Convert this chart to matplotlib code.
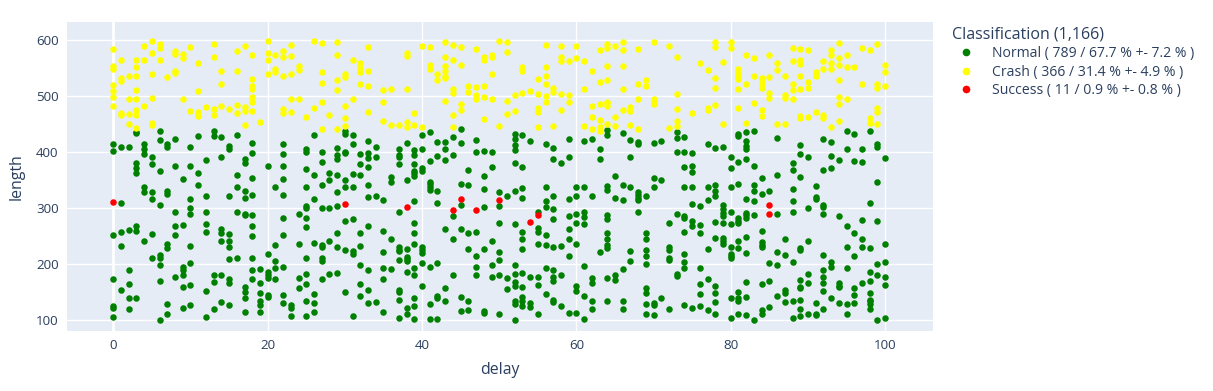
import matplotlib
matplotlib.use("Agg")
import matplotlib.pyplot as plt
from matplotlib.lines import Line2D

# lengths, one list per delay value (index = delay 0..100)
normal_by_delay = [
    [415, 402, 252, 173, 125, 122, 106],
    [409, 309, 257, 233, 154],
    [409, 261, 189, 165, 139, 121],
    [435, 434, 381, 371, 363, 269, 259, 139],
    [414, 405, 397, 338, 329, 242],
    [391, 378, 328, 317, 254, 211],
    [437, 421, 367, 305, 217, 212, 198, 171, 100],
    [415, 409, 331, 325, 236, 229, 130, 111],
    [423, 376, 293, 268, 252, 178],
    [352, 270, 196, 189, 181, 160, 122],
    [409, 376, 317, 301, 289, 233, 203, 163, 128],
    [429, 362, 341],
    [386, 322, 293, 271, 258, 152, 106],
    [437, 428, 181, 169, 121],
    [427, 391, 262, 255, 241, 181, 132],
    [411, 405, 322, 254, 242, 230, 210, 174, 167, 127],
    [430, 360, 337, 293, 212],
    [387, 381, 330, 318, 289, 287, 159, 151, 139, 114],
    [416, 399, 353, 324, 287, 269, 250, 212, 189, 174],
    [192, 167, 148, 134, 128, 115],
    [376, 219, 186, 180, 175, 145, 142],
    [337, 235, 206, 193, 173],
    [415, 396, 376, 352, 323, 282, 252, 195, 146, 131],
    [128, 122, 107],
    [290, 236, 175, 157],
    [406, 400, 370, 338, 304, 300, 282, 267, 212, 183, 164, 135, 108],
    [430, 359, 316, 238, 147, 131, 115],
    [401, 382, 341, 300, 235, 230, 211, 205, 173],
    [363, 351, 301, 242, 183],
    [407, 395, 387, 359, 329, 304, 255, 231, 184],
    [437, 433, 401, 398, 351, 337, 278, 226, 151],
    [430, 415, 361, 337, 281, 224, 218, 108],
    [396, 379, 360, 255, 232, 198, 165, 144],
    [420, 399, 389, 373, 342, 320, 269, 190, 154, 131],
    [409, 392, 322, 132],
    [314, 260, 221, 194, 174, 114],
    [355, 347, 245, 191],
    [406, 394, 391, 378, 293, 230, 225, 223, 207, 155, 151, 136, 104],
    [417, 351, 228, 213, 210, 205, 186, 122, 112],
    [404, 394, 378, 366, 363, 358, 313, 273, 255, 236, 194, 181, 140, 125, 103],
    [430, 405, 372, 367, 231, 226, 220, 203, 162],
    [436, 384, 347, 343, 337, 333, 196, 130, 103],
    [418, 393, 330, 309, 203, 144, 139, 103],
    [418, 405, 386, 262, 158, 135],
    [427, 394, 286, 245, 181],
    [442, 416, 343, 305, 262, 141, 116],
    [368, 341, 255, 228, 134, 118],
    [421, 401, 257, 215, 196, 181],
    [402, 357, 334, 302, 228, 117, 113],
    [401, 374, 242, 199, 178],
    [329, 304, 273, 221, 207, 181, 111],
    [321, 176, 156],
    [433, 423, 412, 403, 381, 331, 271, 198, 183, 168, 162, 134, 130, 101],
    [431, 373, 336, 318, 258, 245, 228, 184, 160, 141, 135, 125],
    [420, 177, 131, 124],
    [294, 264, 258, 236, 177, 163, 112],
    [414, 338, 312, 302, 252, 235, 194, 147],
    [407, 387, 321, 299, 281, 231, 190, 177, 170, 136, 132],
    [381, 232, 180, 125],
    [424, 392, 317, 286, 262, 245, 214, 113],
    [338, 321, 289, 274, 237, 161, 153, 113],
    [419, 337, 294, 284, 272, 197, 144, 102],
    [423, 322, 176, 167, 135, 121],
    [406, 387, 222],
    [439, 431, 339, 332, 288, 281, 256, 245, 235, 229, 176, 134],
    [358, 319, 181, 172],
    [434, 341, 315, 191, 135, 121],
    [421, 392, 338, 223, 206],
    [418, 415, 329, 324, 318, 314, 294],
    [321, 255, 245, 225, 214, 201, 157, 148, 130, 111],
    [416, 353, 338, 131, 127, 109],
    [420, 351, 139],
    [273, 230, 226, 211, 208, 121],
    [436, 425, 401, 290, 183, 179],
    [427, 400, 374, 337, 286, 283, 258, 219, 204, 194, 127],
    [398, 375, 364, 337, 308, 278, 269, 122],
    [304, 270, 256, 194, 164, 147, 125],
    [414, 337, 315, 228, 174, 119],
    [408, 342, 331, 321, 275, 247, 162, 148, 132, 112],
    [409, 305, 299, 292, 286, 273, 246, 241, 236],
    [391, 372, 337, 294, 271, 230, 219, 215, 211, 139, 105],
    [432, 428, 383, 344, 283, 278, 273, 241, 229, 151, 139, 135, 112],
    [436, 419, 411, 405, 388, 316, 291, 288, 283, 249, 220, 168, 141, 109],
    [438, 376, 341, 330, 312, 288, 101],
    [353, 325, 259, 239, 234, 230, 165, 118, 111],
    [331, 203, 170, 123],
    [426, 359, 289, 222, 199, 143],
    [245, 217, 155, 149, 132],
    [381, 368, 335, 313, 294, 204, 135, 105],
    [413, 397, 356, 229, 225, 172, 160, 157, 137, 121, 107],
    [392, 301, 242, 183, 167, 112],
    [339, 320, 316, 131, 112, 109],
    [423, 368, 305, 302, 289, 217, 190, 178, 167, 152, 121],
    [418, 393, 371, 204, 196, 139],
    [386, 286, 167, 161, 159, 131],
    [437, 405, 269, 231, 193, 130, 112],
    [433, 385, 255, 214, 158, 146, 131],
    [405, 383, 279, 245, 231, 167],
    [438, 309, 229, 187, 170, 148, 137, 134, 130, 121],
    [414, 409, 347, 277, 200, 181, 101],
    [389, 237, 204, 178, 163, 104],
]

crash_by_delay = [
    [584, 554, 548, 520, 509, 498, 482],
    [564, 532, 526, 469, 466],
    [536, 495, 468, 450],
    [565, 552, 536, 510, 495, 475, 466, 443],
    [590, 564, 483],
    [599, 577, 539, 496, 452, 448],
    [593, 585, 565],
    [534],
    [580, 575, 545, 541],
    [575, 567, 495],
    [587, 473],
    [559, 509, 472, 465],
    [480],
    [592, 570, 477, 467],
    [545, 522, 483],
    [476],
    [580, 544, 484, 469],
    [589, 480, 474, 449],
    [573, 531, 518, 513, 499, 489, 474],
    [454],
    [598, 577, 564, 539],
    [574, 549, 542],
    [580, 570, 535, 477, 469],
    [591, 572, 540, 495, 472],
    [554, 546, 494],
    [463],
    [599, 478],
    [595, 542, 523, 490, 442],
    [467],
    [597, 574, 529, 510, 442],
    [539, 534, 482, 460, 446],
    [564, 495],
    [559, 550, 542, 522],
    [587, 545, 518, 471],
    [],
    [510, 490, 456],
    [513, 448],
    [449],
    [577, 572, 512, 453, 444],
    [470, 449],
    [589, 445],
    [587, 555, 549],
    [540, 529],
    [596, 570, 553, 545, 536, 532, 492],
    [591, 564, 512, 505, 466, 444],
    [588, 556, 485, 475],
    [518, 507],
    [583, 516, 502, 495],
    [570, 564, 518, 499, 459],
    [574, 569, 540, 495],
    [599, 446],
    [596, 579, 492, 468],
    [501, 473],
    [552, 545, 506],
    [509],
    [531, 503, 478, 472, 444],
    [591, 552, 536, 522, 500, 490],
    [515, 508, 447],
    [590, 570, 563, 503, 475],
    [563, 501, 489],
    [590, 568],
    [563, 512, 447],
    [544, 482, 463, 441],
    [582, 525, 485, 457, 444, 438],
    [592, 585, 553, 529, 490, 487, 482, 451],
    [590, 462, 447],
    [596, 582, 553, 513, 475],
    [480, 474, 448],
    [583, 521, 495, 442],
    [529, 517],
    [596, 494, 490, 485],
    [],
    [589, 443],
    [570, 504, 477, 455, 446],
    [],
    [470],
    [558],
    [546, 478, 475],
    [596, 587, 533, 515, 484],
    [560, 451],
    [596, 585],
    [548, 540, 533, 530, 513, 478],
    [574, 521, 452],
    [567, 535, 488],
    [533, 523, 514, 475, 465],
    [574, 534, 506, 497],
    [559, 546, 450],
    [535, 502, 497, 450],
    [585, 562, 522, 511, 495],
    [584, 564, 557, 535, 513, 465, 461],
    [582, 525, 514, 462],
    [542, 536, 471],
    [562, 548, 467, 461],
    [582, 573, 558, 548, 444],
    [594, 568, 556, 528, 499, 485, 456],
    [574, 551, 495],
    [552],
    [586, 521],
    [582, 461, 452],
    [593, 522, 514, 478, 472, 450],
    [555, 542, 518],
]

success_delay = [0, 30, 38, 44, 45, 47, 50, 54, 55, 85, 85]
success_length = [311, 308, 303, 297, 317, 297, 315, 275, 288, 305, 289]

legend_labels = [
    "Normal ( 789 / 67.7 % +- 7.2 % )",
    "Crash ( 366 / 31.4 % +- 4.9 % )",
    "Success ( 11 / 0.9 % +- 0.8 % )",
]
colors = ["green", "yellow", "red"]


def flatten(by_delay):
    xs, ys = [], []
    for d, lengths in enumerate(by_delay):
        for v in lengths:
            xs.append(d)
            ys.append(v)
    return xs, ys


plt.rcParams["font.family"] = ["Open Sans", "DejaVu Sans"]
text_color = "#2a3f5f"

fig = plt.figure(figsize=(12.13, 3.91), dpi=100)
ax = fig.add_axes([67 / 1213, 1 - 331 / 391, (933 - 67) / 1213, (331 - 22) / 391])
ax.set_facecolor("#E5ECF6")

series = [flatten(normal_by_delay), flatten(crash_by_delay), (success_delay, success_length)]
for (xs, ys), c in zip(series, colors):
    ax.scatter(xs, ys, s=22, color=c, linewidths=0, zorder=3)

ax.set_xlim(-6, 106.2)
ax.set_ylim(81, 632)
ax.set_xticks(range(0, 101, 20))
ax.set_yticks(range(100, 601, 100))
ax.grid(True, color="white", linewidth=1, zorder=0)
ax.axvline(0, color="white", linewidth=2, zorder=1)
ax.set_axisbelow(True)
for s in ax.spines.values():
    s.set_visible(False)
ax.tick_params(length=0, labelsize=9.6, labelcolor=text_color, pad=6)
ax.set_xlabel("delay", fontsize=11.4, color=text_color, labelpad=7)
ax.set_ylabel("length", fontsize=11.4, color=text_color, labelpad=8)

handles = [Line2D([], [], marker="o", linestyle="", markersize=4.5, color=c) for c in colors]
leg = ax.legend(handles, legend_labels, title="Classification (1,166)",
                loc="upper left", bbox_to_anchor=(946 / 1213, 1 - 21 / 391),
                bbox_transform=fig.transFigure, frameon=False, fontsize=10.1,
                title_fontsize=11.5, labelcolor=text_color, alignment="left",
                handletextpad=0.9, labelspacing=0.25, borderaxespad=0)
leg.get_title().set_color(text_color)

fig.savefig("out.png", dpi=100)
